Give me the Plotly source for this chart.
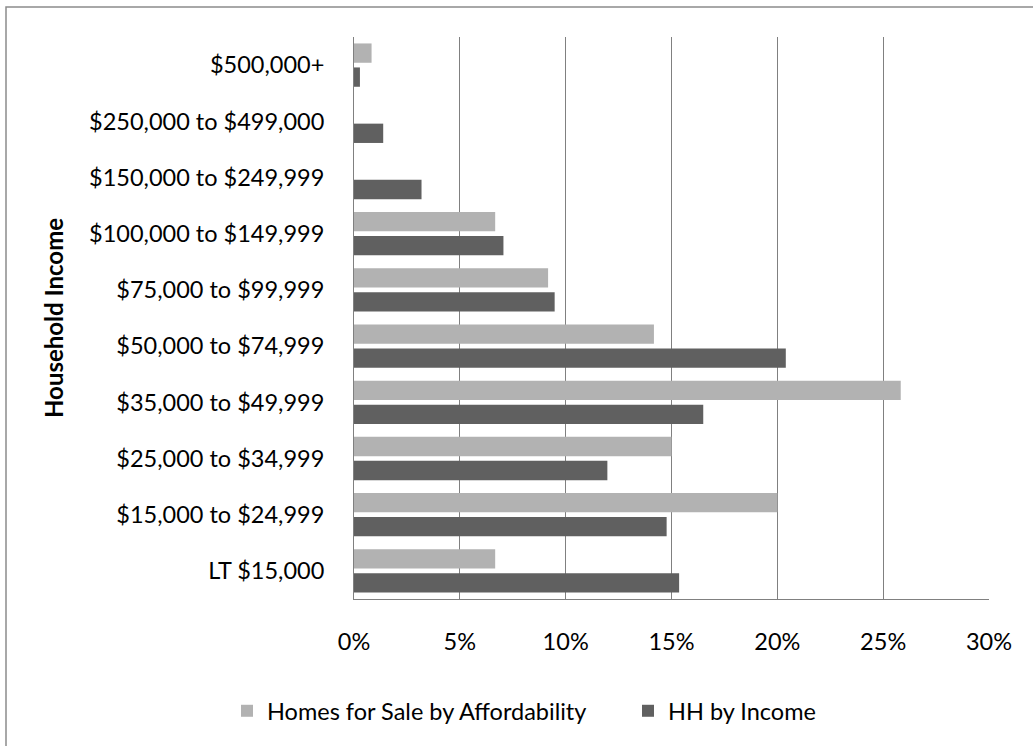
import plotly.graph_objects as go

# Household income brackets, listed bottom to top
categories = [
    "LT $15,000",
    "$15,000 to $24,999",
    "$25,000 to $34,999",
    "$35,000 to $49,999",
    "$50,000 to $74,999",
    "$75,000 to $99,999",
    "$100,000 to $149,999",
    "$150,000 to $249,999",
    "$250,000 to $499,000",
    "$500,000+",
]

# Share of homes for sale affordable to each bracket (%)
homes_pct = [6.67, 20.0, 15.0, 25.83, 14.17, 9.17, 6.67, 0.0, 0.0, 0.83]

# Share of households in each income bracket (%)
hh_pct = [15.36, 14.77, 11.97, 16.50, 20.40, 9.48, 7.06, 3.19, 1.38, 0.28]

x_ticks = [0, 5, 10, 15, 20, 25, 30]
x_tick_labels = ["0%", "5%", "10%", "15%", "20%", "25%", "30%"]

FONT = "Lato"
FS = 23.5
W, H = 1033, 746
L, R, T, B = 354, 44, 37, 147
pw, ph = W - L - R, H - T - B

fig = go.Figure()

# HH drawn first so it sits below the homes bar within each group
fig.add_trace(go.Bar(
    y=categories, x=hh_pct, orientation="h", name="HH by Income",
    marker=dict(color="#606060", line=dict(width=0)),
    legendrank=2,
))
fig.add_trace(go.Bar(
    y=categories, x=homes_pct, orientation="h",
    name="Homes for Sale by Affordability",
    marker=dict(color="#b2b2b2", line=dict(width=0)),
    legendrank=1,
))


def px_x(px):
    return (px - L) / pw


def px_y(py):
    return (H - B - py) / ph


fig.update_layout(
    width=W, height=H,
    margin=dict(l=L, r=R, t=T, b=B, autoexpand=False),
    paper_bgcolor="white", plot_bgcolor="white",
    barmode="group", bargap=0.146, bargroupgap=0.195,
    font=dict(family=FONT, size=FS, color="#000000"),
    showlegend=True,
    legend=dict(
        orientation="h", yanchor="middle", xanchor="left",
        x=px_x(227), y=px_y(711),
        entrywidth=356, entrywidthmode="pixels",
        font=dict(family=FONT, size=FS, color="#000000"),
        bgcolor="rgba(0,0,0,0)", borderwidth=0,
    ),
    xaxis=dict(
        range=[0, 30], tickvals=x_ticks, ticktext=x_tick_labels,
        showgrid=True, gridcolor="#808080", gridwidth=1,
        zeroline=False, showline=True, linecolor="#808080", linewidth=1,
        ticks="", ticklabelstandoff=22,
        tickfont=dict(family=FONT, size=FS, color="#000000"),
        fixedrange=True,
    ),
    yaxis=dict(
        type="category", categoryorder="array", categoryarray=categories,
        showgrid=False, zeroline=False,
        showline=True, linecolor="#808080", linewidth=1,
        ticks="", ticklabelstandoff=24,
        tickfont=dict(family=FONT, size=FS, color="#000000"),
        title=dict(text="<b>Household Income</b>", standoff=18,
                   font=dict(family=FONT, size=24, color="#000000")),
        fixedrange=True,
    ),
    shapes=[
        # chart frame (only top and left edges fall inside the page)
        dict(type="rect", xref="paper", yref="paper",
             x0=px_x(6), x1=px_x(1045), y0=px_y(760), y1=px_y(7),
             line=dict(color="#8c8c8c", width=1.5), layer="below"),
    ],
)

fig.write_html("out.html")
